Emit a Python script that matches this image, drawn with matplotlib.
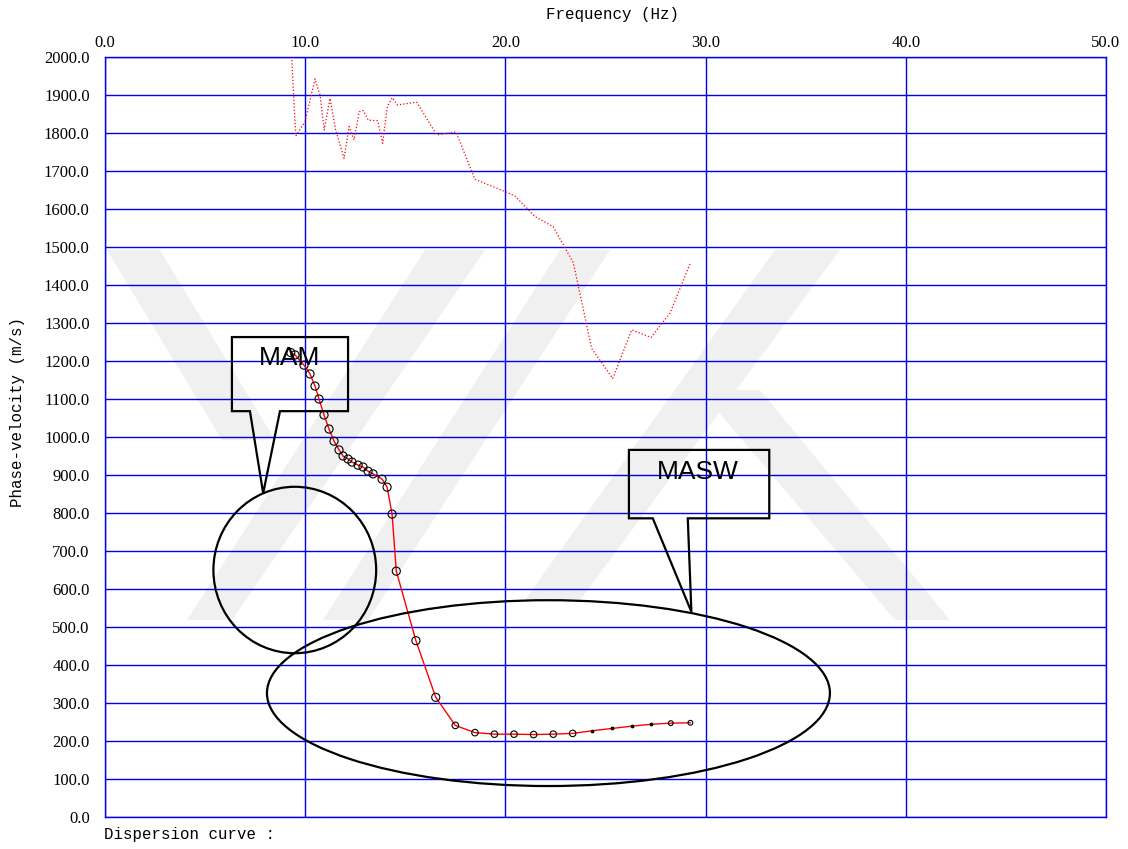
import matplotlib.pyplot as plt
import numpy as np
from matplotlib.patches import Ellipse, Polygon

# dispersion curve picked points (MAM + MASW)
freq = [9.28, 9.49, 9.94, 10.24, 10.49, 10.69, 10.94, 11.19, 11.44, 11.69,
        11.89, 12.14, 12.34, 12.64, 12.89, 13.14, 13.39, 13.84, 14.09, 14.34,
        14.55, 15.53, 16.52, 17.50, 18.48, 19.45, 20.43, 21.41, 22.39, 23.36,
        24.34, 25.32, 26.31, 27.29, 28.26, 29.24]
vel = [1222, 1216, 1189, 1166, 1134, 1100, 1058, 1021, 989, 966,
       950, 942, 934, 926, 921, 910, 903, 889, 868, 797,
       647, 464, 315, 241, 222, 218, 218, 217, 218, 220,
       227, 233, 239, 244, 247, 248]

# dotted red line (peak picking)
freq2 = [9.33, 9.53, 9.99, 10.49, 10.74, 10.95, 11.24, 11.52, 11.94, 12.19,
         12.44, 12.70, 12.90, 13.15, 13.62, 13.87, 14.10, 14.35, 14.60, 15.57,
         16.57, 17.53, 18.48, 19.98, 20.48, 21.48, 22.39, 23.39, 24.31, 25.36,
         26.31, 27.27, 28.22, 29.22]
vel2 = [1992, 1792, 1830, 1942, 1900, 1808, 1891, 1808, 1733, 1817,
        1782, 1856, 1859, 1834, 1832, 1773, 1869, 1893, 1874, 1881,
        1795, 1803, 1678, 1646, 1634, 1580, 1553, 1459, 1233, 1154,
        1282, 1262, 1326, 1455]

xticks = np.arange(0, 51, 10)
yticks = np.arange(0, 2001, 100)

W, H = 1128, 849
fig = plt.figure(figsize=(W / 100, H / 100), dpi=100)
ax = fig.add_axes([105 / W, 1 - 817 / H, 1001 / W, 760 / H])
ax.set_facecolor('none')


def px(x, y):
    return (x / W, 1 - y / H)


# faint watermark in the background
bands = [
    [(107, 250), (160, 250), (275, 440), (222, 440)],
    [(425, 250), (485, 250), (232, 620), (187, 620)],
    [(560, 250), (610, 250), (368, 620), (323, 620)],
    [(775, 250), (840, 250), (580, 600), (525, 600)],
    [(700, 390), (760, 390), (950, 620), (895, 620)],
]
for b in bands:
    fig.add_artist(Polygon([px(*p) for p in b], closed=True, transform=fig.transFigure,
                           facecolor='#f0f0f0', edgecolor='none', zorder=-1))

ax.set_xlim(0, 50)
ax.set_ylim(0, 2000)
ax.set_xticks(xticks)
ax.set_yticks(yticks)
ax.set_xticklabels([f"{v:.1f}" for v in xticks], family='Liberation Serif', fontsize=12)
ax.set_yticklabels([f"{v:.1f}" for v in yticks], family='Liberation Serif', fontsize=12)
ax.xaxis.tick_top()
ax.tick_params(axis='both', length=0)
ax.tick_params(axis='x', pad=4)
ax.tick_params(axis='y', pad=11)
ax.grid(True, color='#0000ee', lw=1.0)
for s in ax.spines.values():
    s.set_color('#0000ee')
    s.set_linewidth(1.0)

ax.plot(freq2, vel2, color='red', lw=0.9, ls=':', zorder=3)
ax.plot(freq, vel, color='red', lw=1.0, zorder=3)
f = np.array(freq)
v = np.array(vel)
big = f < 17
mid = (f >= 17) & (f < 24)
tiny = (f >= 24) & (f < 28)
last = f >= 28
ax.scatter(f[big], v[big], s=34, facecolors='none', edgecolors='black', lw=0.8, zorder=4)
ax.scatter(f[mid], v[mid], s=22, facecolors='none', edgecolors='black', lw=0.8, zorder=4)
ax.scatter(f[tiny], v[tiny], s=3, color='black', zorder=4)
ax.scatter(f[last], v[last], s=12, facecolors='none', edgecolors='black', lw=0.8, zorder=4)

# callouts
mam = [(6.34, 1263), (12.14, 1263), (12.14, 1068), (8.74, 1068), (7.90, 852),
       (7.24, 1068), (6.34, 1068)]
masw = [(26.17, 966), (33.18, 966), (33.18, 786), (29.11, 786), (29.29, 540),
        (27.36, 786), (26.17, 786)]
for poly in (mam, masw):
    ax.add_patch(Polygon(poly, closed=True, fill=False, edgecolor='black', lw=1.6, zorder=5))
ax.text(9.24, 1208, "MAM", ha='center', va='center', fontsize=19,
        family='Liberation Sans', zorder=6)
ax.text(29.62, 908, "MASW", ha='center', va='center', fontsize=19,
        family='Liberation Sans', zorder=6)

ax.add_patch(Ellipse((9.48, 650), 8.13, 438, fill=False, edgecolor='black', lw=1.6, zorder=5))
ax.add_patch(Ellipse((22.15, 326), 28.12, 489, fill=False, edgecolor='black', lw=1.6, zorder=5))

fig.text(613 / W, 1 - 14 / H, "Frequency (Hz)", ha='center', va='center',
         family='Liberation Mono', fontsize=11.4)
fig.text(18 / W, 1 - 412 / H, "Phase-velocity (m/s)", ha='center', va='center',
         rotation=90, family='Liberation Mono', fontsize=11.4)
fig.text(104 / W, 1 - 835 / H, "Dispersion curve :", ha='left', va='center',
         family='Liberation Mono', fontsize=11.3)

fig.savefig("out.png", dpi=100)
